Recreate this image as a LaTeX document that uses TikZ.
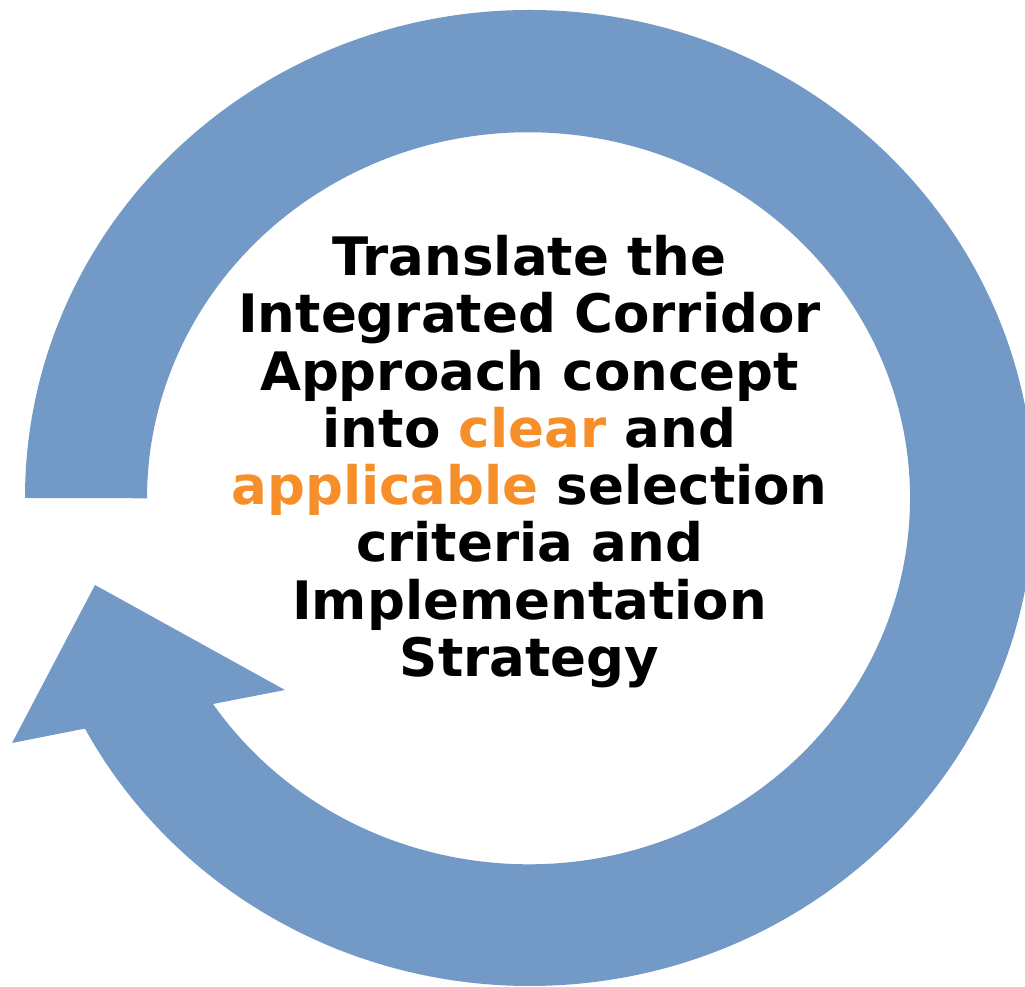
\documentclass[tikz,border=0pt]{standalone}
\usepackage{fontspec}
\setmainfont{DejaVu Sans}
\definecolor{ringblue}{RGB}{115,154,198}
\definecolor{keyorange}{RGB}{246,142,42}
\begin{document}
\begin{tikzpicture}[x=1pt,y=1pt,
    goaltext/.style={align=center,inner sep=0pt,
      font=\bfseries\fontsize{53}{57.3}\selectfont}]
    \useasboundingbox (0,0) rectangle (1025,987);
    \clip (0,0) rectangle (1025,987);
    % circular arrow, open at the left
    \fill[ringblue] (25,489)
      arc[start angle=180,end angle=-151.8,x radius=504.5pt,y radius=488pt]
      -- (12,244) -- (95,402) -- (285,297) -- (213,283)
      arc[start angle=-145.8,end angle=180,x radius=381.5pt,y radius=366pt]
      -- cycle;
    \node[goaltext] (goal) at (529.5,525.4) {Translate the\\
      Integrated Corridor\\
      Approach concept\\
      into \textcolor{keyorange}{clear} and\\
      \textcolor{keyorange}{applicable} selection\\
      criteria and\\
      Implementation\\
      Strategy};
  \end{tikzpicture}
\end{document}
